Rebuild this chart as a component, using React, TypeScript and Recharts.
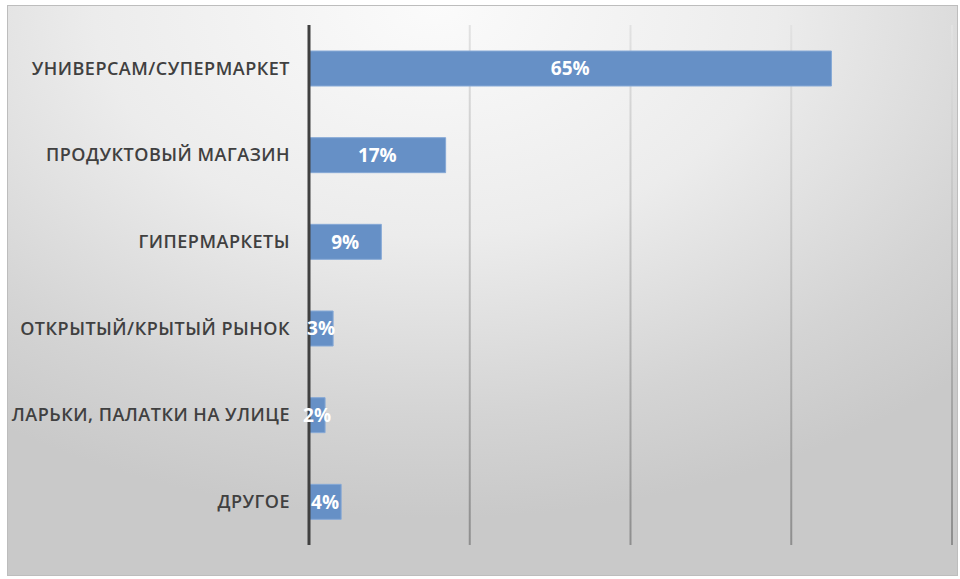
import React from 'react';
import { BarChart, Bar, XAxis, YAxis, CartesianGrid, LabelList } from 'recharts';

// Shares of purchase places, %
const CATEGORIES = [
  'УНИВЕРСАМ/СУПЕРМАРКЕТ',
  'ПРОДУКТОВЫЙ МАГАЗИН',
  'ГИПЕРМАРКЕТЫ',
  'ОТКРЫТЫЙ/КРЫТЫЙ РЫНОК',
  'ЛАРЬКИ, ПАЛАТКИ НА УЛИЦЕ',
  'ДРУГОЕ',
];
const SHARES = [65, 17, 9, 3, 2, 4];
const X_TICKS = [0, 20, 40, 60, 80];

const data = CATEGORIES.map((name, i) => ({ name, value: SHARES[i] }));

const FONT = '"Open Sans", "Noto Sans", sans-serif';

export default function App() {
  return (
    <div style={{ position: 'absolute', left: 0, top: 0, width: 960, height: 579, background: '#fff' }}>
      <div
        style={{
          position: 'absolute', left: 7, top: 5, width: 949, height: 569,
          border: '1px solid #bdbdbd',
          background: 'radial-gradient(ellipse 80% 90% at 45% 0%, #fbfbfb 0%, #ececec 45%, #d4d4d4 80%, #c9c9c9 100%)',
        }}
      >
        <BarChart
          width={949}
          height={569}
          data={data}
          layout="vertical"
          barCategoryGap="30%"
          margin={{ top: 19, right: 5, bottom: 30, left: 0 }}
        >
          <defs>
            <linearGradient id="gridGrad" gradientUnits="userSpaceOnUse" x1="0" y1="19" x2="0" y2="539">
              <stop offset="0%" stopColor="#e2e2e2" />
              <stop offset="100%" stopColor="#8e8e8e" />
            </linearGradient>
          </defs>
          <CartesianGrid horizontal={false} stroke="url(#gridGrad)" strokeWidth={2} />
          <XAxis type="number" domain={[0, 80]} ticks={X_TICKS} hide />
          <YAxis
            type="category"
            dataKey="name"
            width={301}
            axisLine={{ stroke: '#404040', strokeWidth: 3 }}
            tickLine={false}
            tickSize={0}
            tickMargin={19}
            tick={{ fill: '#404040', fontSize: 18, fontWeight: 600, fontFamily: FONT, letterSpacing: 0.5 }}
          />
          <Bar dataKey="value" fill="#6690c6" stroke="#86a9d6" strokeWidth={1} isAnimationActive={false}>
            <LabelList
              dataKey="value"
              position="center"
              formatter={(v: any) => `${v}%`}
              fill="#ffffff"
              style={{ fontSize: 19, fontWeight: 700, fontFamily: FONT }}
            />
          </Bar>
        </BarChart>
      </div>
    </div>
  );
}
